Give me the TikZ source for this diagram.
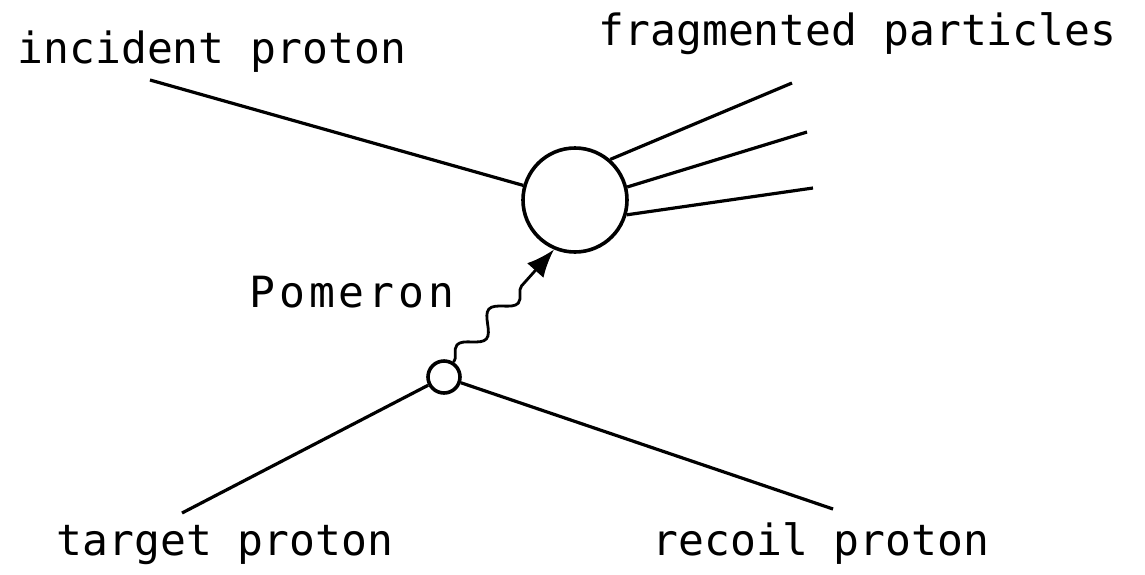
\documentclass[tikz,border=0pt]{standalone}
\usepackage{fontspec}
\newfontfamily\plotfont{DejaVu Sans Mono}
\newfontfamily\plotfontwide[LetterSpace=9]{DejaVu Sans Mono}
\usetikzlibrary{arrows.meta,decorations.pathmorphing}

\begin{document}
\begin{tikzpicture}[x=0.5pt,y=-0.5pt,line width=1.6pt,
  lbl/.style={font=\plotfont\fontsize{21.5}{24}\selectfont,anchor=base west,inner sep=0pt},
  blob/.style={circle,draw,line width=1.8pt,inner sep=0pt},
  gluon/.style={decorate,decoration={snake,segment length=24pt,amplitude=4.5pt,post length=16pt}}]

\useasboundingbox (0,0) rectangle (1145,574);

% ===== labels =====
\node[lbl] (tinc) at (16,63) {incident proton};
\node[lbl] (tfrag) at (597,45) {fragmented particles};
\node[lbl,font=\plotfontwide\fontsize{21.5}{24}\selectfont] (tpom) at (248,307) {Pomeron};
\node[lbl] (ttgt) at (55,555) {target proton};
\node[lbl] (trec) at (651,555) {recoil proton};

% ===== vertices =====
\node[blob,minimum size=52pt] (frag) at (575,200) {};
\node[blob,minimum size=16pt] (vtx) at (444,377) {};

% ===== free ends =====
\coordinate (inc) at (150,80);
\coordinate (tgt) at (182,513);
\coordinate (rec) at (833,509);
\coordinate (f1) at (792,83);
\coordinate (f2) at (807,132);
\coordinate (f3) at (813,188);

% ===== lines =====
\draw (inc) -- (frag);
\draw (frag.49) -- (f1);
\draw (frag.14) -- (f2);
\draw (frag.-16) -- (f3);
\draw (tgt) -- (vtx);
\draw (vtx) -- (rec);

% ===== pomeron exchange =====
\draw[gluon,line width=1.4pt,-{Latex[length=14pt,width=11pt]}] (vtx.57) -- (frag.247);

\end{tikzpicture}
\end{document}
